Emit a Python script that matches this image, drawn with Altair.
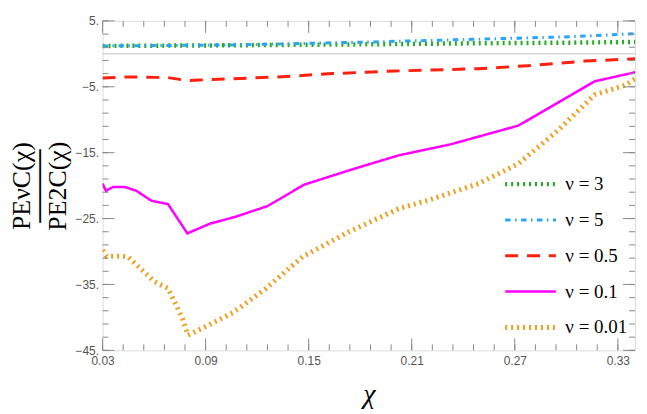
import altair as alt
import pandas as pd

# ---- data ----
chi_g = [0.03, 0.106, 0.186, 0.245, 0.303, 0.34]
val_g = [1.2, 1.3, 1.45, 1.6, 1.7, 1.8]            # nu = 3

chi_b = [0.03, 0.106, 0.186, 0.245, 0.303, 0.34]
val_b = [1.2, 1.35, 1.8, 2.2, 2.6, 3.05]           # nu = 5

chi_r = [0.03, 0.0442, 0.0616, 0.068, 0.0794, 0.0865, 0.1155, 0.1346, 0.1636,
         0.2007, 0.2488, 0.2778, 0.3109, 0.34]
val_r = [-3.67, -3.5, -3.57, -3.6, -4.07, -3.97, -3.67, -3.47, -3.0,
         -2.6, -2.26, -1.8, -1.1, -0.75]           # nu = 0.5

chi_m = [0.03, 0.032, 0.0361, 0.043, 0.0498, 0.0585, 0.0681, 0.0794, 0.0923,
         0.1078, 0.1261, 0.1474, 0.1764, 0.2025, 0.2324, 0.272, 0.3165, 0.34]
val_m = [-19.7, -20.8, -20.2, -20.2, -20.8, -22.3, -22.8, -27.25, -25.8,
         -24.7, -23.1, -19.85, -17.45, -15.4, -13.75, -10.9, -4.17, -2.8]  # nu = 0.1

chi_o = [0.03, 0.0324, 0.0401, 0.0448, 0.0517, 0.0604, 0.0681, 0.0732, 0.0767,
         0.0797, 0.0846, 0.1058, 0.1252, 0.1464, 0.1735, 0.2025, 0.2199, 0.2488,
         0.272, 0.2952, 0.3165, 0.3339, 0.34]
val_o = [-29.8, -30.75, -30.7, -30.8, -32.5, -34.6, -35.6, -38.3, -40.3,
         -42.7, -42.1, -39.3, -35.6, -30.8, -27.0, -23.5, -22.2, -19.7,
         -16.7, -11.6, -6.2, -4.8, -3.8]          # nu = 0.01

labels = ["ν = 3", "ν = 5", "ν = 0.5", "ν = 0.1", "ν = 0.01"]
colors = ["#22ab22", "#2aa4f4", "#ff2010", "#ff00ff", "#f0a020"]
dashes = [[2, 4], [5.5, 4.5, 1.5, 4.5], [13, 9], [1, 0], [2, 4]]
widths = [4.5, 3, 3, 2.5, 5]

x_major = [0.03, 0.09, 0.15, 0.21, 0.27, 0.33]
x_minor = [round(0.03 + 0.012 * i, 3) for i in range(26)]
y_major = [5, -5, -15, -25, -35, -45]
y_minor = list(range(5, -46, -2))

rows = []
for lab, xs, ys in zip(labels, [chi_g, chi_b, chi_r, chi_m, chi_o],
                       [val_g, val_b, val_r, val_m, val_o]):
    for i, (x, y) in enumerate(zip(xs, ys)):
        rows.append({"series": lab, "chi": x, "val": y, "ord": i})
df = pd.DataFrame(rows)

W, H = 535, 331
MAJ, MIN = 12, 6
xscale = alt.Scale(domain=[0.03, 0.34], nice=False, zero=False)
yscale = alt.Scale(domain=[-45, 5], nice=False, zero=False)

TICK = "#8a8a8a"
lab_common = dict(domain=False, grid=False, ticks=False, tickSize=0,
                  labelColor="#555555", labelFont="Liberation Sans", labelFontSize=12)

leg = alt.Legend(orient="none", legendX=402, legendY=146, title=None,
                 symbolType="stroke", symbolSize=2600, labelFont="Liberation Serif",
                 labelFontSize=19, labelColor="black", labelOffset=7, rowPadding=0,
                 clipHeight=36)

main = alt.Chart(df).mark_line(clip=True).encode(
    x=alt.X("chi:Q", scale=xscale, axis=alt.Axis(
        orient="bottom", values=x_major, format=".2f", labelFlush=False,
        labelPadding=5, title="χ", titleFont="Liberation Serif", titleFontStyle="italic",
        titleFontSize=28, titleFontWeight="normal", titleColor="black", titlePadding=14,
        **lab_common)),
    y=alt.Y("val:Q", scale=yscale, axis=alt.Axis(
        orient="left", values=y_major, labelPadding=4, labelFlush=False,
        labelExpr="format(datum.value, 'd') + '.'",
        title=["PEνC(χ)", "────", "PE2C(χ)"], titleFont="Liberation Serif",
        titleFontSize=26, titleFontWeight="normal", titleColor="black",
        titleLineHeight=18, titlePadding=5, **lab_common)),
    color=alt.Color("series:N", scale=alt.Scale(domain=labels, range=colors), legend=leg),
    strokeDash=alt.StrokeDash("series:N", scale=alt.Scale(domain=labels, range=dashes), legend=leg),
    strokeWidth=alt.StrokeWidth("series:N", scale=alt.Scale(type="ordinal", domain=labels, range=widths),
                                legend=leg),
    order="ord:Q",
)

zero = alt.Chart(pd.DataFrame({"v": [0]})).mark_rule(color="#c4c4c4", strokeWidth=1).encode(
    y=alt.Y("v:Q", scale=yscale))


def yticks(values, x0, x1):
    return alt.Chart(pd.DataFrame({"v": values})).mark_rule(color=TICK, strokeWidth=1).encode(
        y=alt.Y("v:Q", scale=yscale), x=alt.value(x0), x2=alt.value(x1))


def xticks(values, y0, y1):
    return alt.Chart(pd.DataFrame({"v": values})).mark_rule(color=TICK, strokeWidth=1).encode(
        x=alt.X("v:Q", scale=xscale), y=alt.value(y0), y2=alt.value(y1))


ticks = [
    yticks(y_major, 0, MAJ), yticks(y_minor, 0, MIN),
    yticks(y_major, W, W - MAJ), yticks(y_minor, W, W - MIN),
    xticks(x_major, H, H - MAJ), xticks(x_minor, H, H - MIN),
    xticks(x_major, 0, MAJ), xticks(x_minor, 0, MIN),
]

chart = alt.layer(main, zero, *ticks).properties(
    width=W, height=H,
    autosize=alt.AutoSizeParams(type="none"),
    padding={"left": 95, "top": 12, "right": 4, "bottom": 63},
).configure_view(stroke=TICK, strokeWidth=1).configure(background="white")

chart.save("out.html", embed_options={"renderer": "svg", "actions": False})
